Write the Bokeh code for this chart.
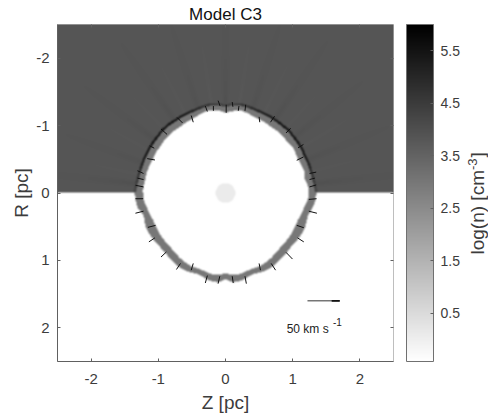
import numpy as np
from bokeh.embed import file_html
from bokeh.layouts import row
from bokeh.resources import INLINE
from bokeh.core.properties import value
from bokeh.models import (ColorBar, ColumnDataSource, FixedTicker, LinearAxis,
                          LinearColorMapper, Range1d)
from bokeh.plotting import figure

# Shell outline, degrees from +Z, sampled every 5 degrees
theta = [float(t) for t in range(0, 185, 5)]
top_outer = [1.36,1.34,1.33,1.32,1.32,1.31,1.32,1.32,1.32,1.33,1.32,1.32,1.32,1.32,1.32,1.33,1.34,1.33,1.30,
             1.33,1.34,1.33,1.32,1.32,1.32,1.32,1.33,1.33,1.32,1.32,1.32,1.32,1.32,1.32,1.33,1.34,1.36]
top_inner = [1.24,1.23,1.20,1.22,1.20,1.19,1.20,1.21,1.19,1.20,1.20,1.19,1.20,1.20,1.21,1.23,1.25,1.22,1.19,
             1.23,1.25,1.24,1.22,1.20,1.20,1.19,1.20,1.20,1.20,1.19,1.20,1.19,1.20,1.21,1.21,1.22,1.24]
top_rim = [4.2,4.4,4.6,4.9,5.2,5.4,5.4,5.4,5.4,5.4,5.4,5.4,5.3,5.2,5.0,4.8,4.6,4.4,4.4,
           4.4,4.6,4.8,5.0,5.3,5.4,5.4,5.4,5.4,5.4,5.4,5.4,5.4,5.2,4.9,4.6,4.4,4.2]
bottom_outer = [1.35,1.34,1.31,1.27,1.28,1.29,1.28,1.27,1.26,1.27,1.28,1.29,1.30,1.29,1.27,1.29,1.32,1.33,1.28,
                1.33,1.32,1.29,1.27,1.29,1.30,1.29,1.28,1.26,1.26,1.27,1.28,1.29,1.28,1.26,1.32,1.34,1.35]
bottom_inner = [1.23,1.23,1.19,1.17,1.15,1.15,1.15,1.15,1.15,1.15,1.16,1.18,1.19,1.20,1.19,1.20,1.22,1.22,1.19,
                1.22,1.22,1.20,1.19,1.20,1.19,1.18,1.16,1.15,1.15,1.15,1.15,1.15,1.15,1.17,1.19,1.22,1.22]

# Faint radial streaks in the ambient gas: angle (deg), log(n) offset
ray_angle = [6,14,22,31,39,47,56,64,72,81,90,99,108,117,125,134,143,151,160,168,174]
ray_amp = [0.45,-0.2,0.3,-0.25,0.3,-0.2,0.35,-0.25,0.3,-0.3,0.4,-0.3,0.3,-0.25,0.35,-0.2,0.3,-0.2,0.25,-0.2,0.45]

# Levels of log(n)
ambient_level = 3.86
shell_level = 3.0
cavity_level = -0.42
core_level = 0.1
core_radius = 0.145

# Velocity vectors: outer end and inner end
vec_z0 = [-0.11,0.01,0.10,0.20,0.30,-0.18,-0.30,-0.72,-0.51,-0.96,-1.13,-1.165,-1.31,-1.31,-1.34,0.50,0.73,0.97,1.16,1.16,1.35,1.33,1.35,
          -1.34,-1.34,-1.155,-1.14,-0.96,-0.73,-0.51,-0.30,-0.11,0.115,0.31,0.52,0.745,0.997,1.165,1.165,1.36,1.355]
vec_r0 = [-1.37,-1.31,-1.35,-1.29,-1.31,-1.29,-1.29,-1.12,-1.15,-0.95,-0.70,-0.51,-0.33,-0.22,-0.115,-1.13,-1.14,-0.96,-0.72,-0.535,-0.31,-0.22,-0.12,
          0.085,0.30,0.51,0.725,0.95,1.135,1.145,1.335,1.345,1.335,1.345,1.145,1.145,0.98,0.725,0.515,0.30,0.085]
vec_z1 = [-0.08,0.01,0.11,0.19,0.29,-0.18,-0.27,-0.64,-0.48,-0.87,-1.06,-1.05,-1.22,-1.22,-1.22,0.51,0.67,0.90,1.08,1.06,1.25,1.25,1.25,
          -1.225,-1.22,-1.04,-1.05,-0.88,-0.67,-0.48,-0.27,-0.085,0.10,0.29,0.50,0.68,0.90,1.07,1.06,1.24,1.24]
vec_r1 = [-1.29,-1.19,-1.28,-1.22,-1.22,-1.22,-1.21,-1.04,-1.05,-0.87,-0.665,-0.49,-0.29,-0.20,-0.09,-1.05,-1.05,-0.89,-0.67,-0.485,-0.29,-0.20,-0.09,
          0.085,0.27,0.48,0.665,0.875,1.045,1.045,1.225,1.235,1.235,1.235,1.045,1.045,0.88,0.665,0.48,0.27,0.095]

# Scale arrow
arrow_z = [1.22, 1.70]
arrow_r = [1.60, 1.60]
head_z = [1.58, 1.70]
head_r = [1.60, 1.60]

ticks = [-2, -1, 0, 1, 2]
cbar_ticks = [0.5, 1.5, 2.5, 3.5, 4.5, 5.5]
cmin, cmax = -0.42, 6.0
ink = "#3c3c3c"
tick_ink = "#606060"

# Density field built from the tables above
nx, ny = 336, 337
zc = -2.5 + (np.arange(nx) + 0.5) * 5 / nx
rc = -2.5 + (np.arange(ny) + 0.5) * 5 / ny
Z, R = np.meshgrid(zc, rc)
rad = np.hypot(Z, R)
ang = np.degrees(np.arctan2(np.abs(R), Z))
upper = R < 0
o_t, i_t = np.interp(ang, theta, top_outer), np.interp(ang, theta, top_inner)
o_b, i_b = np.interp(ang, theta, bottom_outer), np.interp(ang, theta, bottom_inner)
rim = np.interp(ang, theta, top_rim)
outer = np.where(upper, o_t, o_b)
inner = np.where(upper, i_t, i_b)

field = np.full(Z.shape, cavity_level, dtype=float)
streak = np.zeros(Z.shape)
for a, amp in zip(ray_angle, ray_amp):
    streak += amp * np.exp(-((ang - a) / 1.2) ** 2)
falloff = np.exp(-np.clip(rad - 1.33, 0, None) / 0.55)
field[upper] = (ambient_level + streak * falloff * 0.3)[upper]
field[(rad < inner)] = cavity_level
shell = (rad >= inner) & (rad <= outer)
field[shell] = shell_level
edge = upper & (rad > outer - 0.025) & (rad <= outer + 0.01)
field[edge] = rim[edge]
field[rad < core_radius] = core_level

blur = np.array([0.25, 0.5, 0.25])
smooth = np.apply_along_axis(lambda v: np.convolve(v, blur, mode="same"), 0, field)
smooth = np.apply_along_axis(lambda v: np.convolve(v, blur, mode="same"), 1, smooth)
smooth[:, [0, -1]] = field[:, [0, -1]]
smooth[[0, -1], :] = field[[0, -1], :]

mapper = LinearColorMapper(palette=[f"#{v:02x}{v:02x}{v:02x}" for v in range(255, -1, -1)], low=cmin, high=cmax)

p = figure(width=462, height=416, output_backend="svg", toolbar_location=None,
           x_range=Range1d(-2.5, 2.5), y_range=Range1d(2.5, -2.5),
           min_border_left=57, min_border_top=24, min_border_bottom=55, min_border_right=69,
           title="Model C3", x_axis_label="Z [pc]", y_axis_label="R [pc]")
p.grid.visible = False
p.background_fill_color = "white"
p.outline_line_color = "#a8a8a8"
p.title.align = "center"
p.title.text_font = "Liberation Sans"
p.title.text_font_size = "17px"
p.title.text_font_style = "normal"
p.title.text_color = "#111111"
p.title.offset = 0
p.title.standoff = 1

overrides = {t: str(t) for t in ticks}
for ax in (p.xaxis[0], p.yaxis[0]):
    ax.ticker = FixedTicker(ticks=ticks)
    ax.major_label_overrides = overrides
    ax.major_tick_in = 3
    ax.major_tick_out = 0
    ax.minor_tick_in = 0
    ax.minor_tick_out = 0
    ax.axis_line_color = tick_ink
    ax.major_tick_line_color = tick_ink
    ax.major_label_text_font = "Liberation Sans"
    ax.major_label_text_font_size = "15px"
    ax.major_label_text_color = ink
    ax.axis_label_text_font = "Liberation Sans"
    ax.axis_label_text_font_size = "19px"
    ax.axis_label_text_font_style = "normal"
    ax.axis_label_text_color = ink
p.xaxis[0].major_label_standoff = 12
p.xaxis[0].axis_label_standoff = 5
p.yaxis[0].major_label_standoff = 8
p.yaxis[0].axis_label_standoff = 1

p.image(image=[smooth], x=-2.5, y=-2.5, dw=5, dh=5, color_mapper=mapper, level="image")

src = ColumnDataSource(dict(z0=vec_z0, r0=vec_r0, z1=vec_z1, r1=vec_r1))
p.segment("z0", "r0", "z1", "r1", source=src, line_color="#111111", line_width=1)

p.line(arrow_z, arrow_r, line_color="#333333", line_width=1)
p.line(head_z, head_r, line_color="#111111", line_width=1.6)
p.text([0.91], [2.015], text=["50 km s"], text_font=value("Liberation Sans"), text_font_size="12px",
       text_color="#222222", text_baseline="alphabetic")
p.text([1.6], [1.91], text=["-1"], text_font=value("Liberation Sans"), text_font_size="10px",
       text_color="#222222", text_baseline="alphabetic")

for side in ("above", "right"):
    extra = LinearAxis(ticker=FixedTicker(ticks=ticks), major_label_overrides={t: "" for t in ticks},
                       major_tick_in=3, major_tick_out=0, minor_tick_in=0, minor_tick_out=0,
                       axis_line_color=None, major_tick_line_color=tick_ink, major_label_standoff=0)
    p.add_layout(extra, side)

cb = ColorBar(color_mapper=mapper, width=27, height=337, location=(13, 0), padding=0, margin=0,
              ticker=FixedTicker(ticks=cbar_ticks), major_tick_in=3, major_tick_out=0,
              minor_tick_in=0, minor_tick_out=0, major_tick_line_color=tick_ink,
              bar_line_color="#707070", border_line_color=None, background_fill_color=None,
              major_label_text_font="Liberation Sans", major_label_text_font_size="14px",
              major_label_text_color=ink, label_standoff=7, scale_alpha=1.0)
p.add_layout(cb, "right")

# Narrow strip beside the plot that holds the colour bar's rotated label.
# Its frame lines up with the main plot's frame, so the y range spans that frame's height.
q = figure(width=26, height=416, output_backend="svg", toolbar_location=None,
           x_range=Range1d(462, 488), y_range=Range1d(361, 24),
           x_axis_location=None, y_axis_location=None,
           min_border_left=0, min_border_right=0, min_border_top=0, min_border_bottom=0)
q.grid.visible = False
q.outline_line_color = None
for tx, ty, t, size in [(477, 254, "log(n) [cm", "19px"), (472, 169.5, "-3", "13px"), (477, 157, "]", "19px")]:
    q.text([tx], [ty], text=[t], angle=np.pi / 2, text_font=value("Liberation Sans"), text_font_size=size,
           text_color=ink, text_baseline="alphabetic", text_align="left")

open("out.html", "w").write(file_html(row(p, q), INLINE))
